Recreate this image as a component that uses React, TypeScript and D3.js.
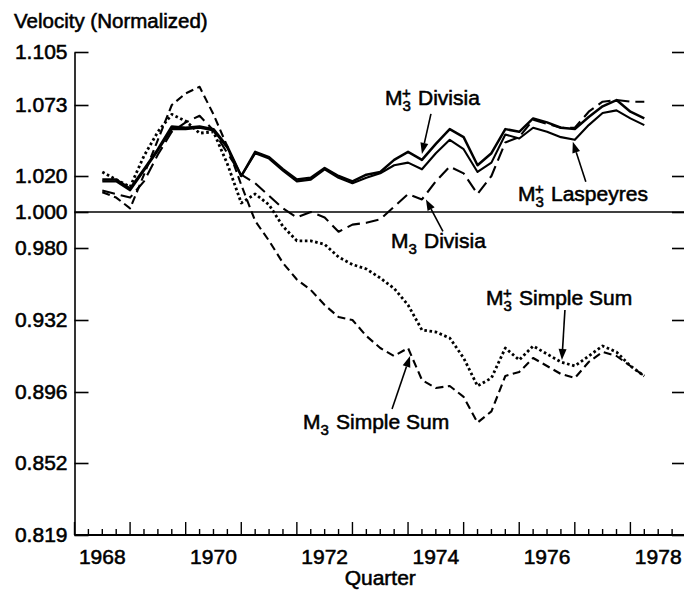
import React, { useEffect, useRef } from "react";
import * as d3 from "d3";

// quarterly observations, 1968Q3 .. 1978Q2
const quarters = [
  "1968Q3", "1968Q4", "1969Q1", "1969Q2", "1969Q3", "1969Q4", "1970Q1", "1970Q2",
  "1970Q3", "1970Q4", "1971Q1", "1971Q2", "1971Q3", "1971Q4", "1972Q1", "1972Q2",
  "1972Q3", "1972Q4", "1973Q1", "1973Q2", "1973Q3", "1973Q4", "1974Q1", "1974Q2",
  "1974Q3", "1974Q4", "1975Q1", "1975Q2", "1975Q3", "1975Q4", "1976Q1", "1976Q2",
  "1976Q3", "1976Q4", "1977Q1", "1977Q2", "1977Q3", "1977Q4", "1978Q1", "1978Q2",
];

const m3PlusDivisia = [
  1.018, 1.018, 1.013, 1.025, 1.040, 1.057, 1.056, 1.057, 1.055, 1.042,
  1.020, 1.038, 1.034, 1.025, 1.018, 1.019, 1.026, 1.020, 1.017, 1.021,
  1.023, 1.032, 1.038, 1.032, 1.044, 1.055, 1.049, 1.028, 1.037, 1.055,
  1.053, 1.063, 1.060, 1.056, 1.055, 1.064, 1.072, 1.076, 1.068, 1.063,
];

const m3PlusLaspeyres = [
  1.017, 1.017, 1.012, 1.024, 1.039, 1.055, 1.055, 1.056, 1.054, 1.041,
  1.020, 1.037, 1.033, 1.024, 1.017, 1.018, 1.025, 1.019, 1.016, 1.019,
  1.022, 1.028, 1.030, 1.025, 1.037, 1.047, 1.040, 1.023, 1.030, 1.051,
  1.048, 1.056, 1.053, 1.049, 1.047, 1.058, 1.067, 1.069, 1.063, 1.058,
];

const m3Divisia = [
  1.012, 1.010, 1.008, 1.017, 1.036, 1.053, 1.060, 1.065, 1.054, 1.037,
  1.021, 1.016, 1.009, 1.002, 0.997, 1.000, 0.997, 0.989, 0.993, 0.994,
  0.996, 1.003, 1.010, 1.007, 1.017, 1.027, 1.022, 1.010, 1.020, 1.045,
  1.049, 1.062, 1.059, 1.056, 1.056, 1.068, 1.075, 1.076, 1.075, 1.075,
];

const m3PlusSimpleSum = [
  1.023, 1.018, 1.014, 1.035, 1.053, 1.066, 1.061, 1.052, 1.053, 1.029,
  1.005, 1.010, 1.004, 0.992, 0.984, 0.984, 0.982, 0.974, 0.969, 0.966,
  0.960, 0.953, 0.942, 0.927, 0.926, 0.923, 0.913, 0.899, 0.903, 0.918,
  0.912, 0.919, 0.915, 0.911, 0.909, 0.914, 0.919, 0.916, 0.909, 0.904,
];

const m3SimpleSum = [
  1.011, 1.008, 1.002, 1.021, 1.047, 1.073, 1.080, 1.084, 1.066, 1.042,
  1.015, 0.995, 0.984, 0.970, 0.959, 0.952, 0.942, 0.934, 0.932, 0.924,
  0.918, 0.914, 0.918, 0.902, 0.898, 0.899, 0.893, 0.877, 0.884, 0.904,
  0.906, 0.913, 0.909, 0.905, 0.903, 0.911, 0.916, 0.914, 0.909, 0.904,
];

const yTicks = [0.819, 0.852, 0.896, 0.932, 0.98, 1.0, 1.02, 1.073, 1.105];
const yTickPx = [535, 463, 392, 320, 248, 212, 176, 105, 52];
const xLabels = [1968, 1970, 1972, 1974, 1976, 1978];

const FONT = "'Liberation Sans', Arial, Helvetica, sans-serif";

export default function App() {
  const svgRef = useRef<SVGSVGElement>(null);

  useEffect(() => {
    const width = 684;
    const height = 592;
    const svg = d3.select(svgRef.current);
    svg.selectAll("*").remove();
    svg.attr("width", width).attr("height", height);

    const left = 74.5;
    const right = 686;
    const bottom = 535;

    const x = d3.scaleLinear().domain([1968, 1979]).range([left, right]);
    // the printed axis is not evenly spaced; map through the tick values
    const y = d3.scaleLinear().domain(yTicks).range(yTickPx);

    const toYear = (q: string) => +q.slice(0, 4) + (+q.slice(5) - 1) / 4;

    const g = svg.append("g").style("font-family", FONT);

    // heavier text like the printed original
    const heavy = (sel: any) => sel.attr("fill", "#000").attr("stroke", "#000").attr("stroke-width", 0.55);

    // title
    g.append("text")
      .attr("x", 14)
      .attr("y", 28)
      .style("font-size", "20.5px")
      .text("Velocity (Normalized)")
      .call(heavy);

    // left axis
    const yAxis = d3.axisLeft(y)
      .tickValues(yTicks)
      .tickSizeInner(-14)
      .tickSizeOuter(0)
      .tickPadding(7)
      .tickFormat(d3.format(".3f"));
    const yAxisG = g.append("g").attr("transform", `translate(${left},0)`).call(yAxis);
    yAxisG.selectAll("text").style("font-size", "21px").style("font-family", FONT).call(heavy);
    yAxisG.selectAll("line, path").attr("stroke", "#000").attr("stroke-width", 1.6);

    // right axis (ticks only visible)
    const yAxisR = d3.axisRight(y).tickValues(yTicks).tickSizeInner(-14).tickSizeOuter(0).tickFormat(() => "");
    const yAxisRG = g.append("g").attr("transform", `translate(${right},0)`).call(yAxisR);
    yAxisRG.selectAll("line, path").attr("stroke", "#000").attr("stroke-width", 1.6);

    // bottom axis
    g.append("line")
      .attr("x1", left).attr("x2", right)
      .attr("y1", bottom).attr("y2", bottom)
      .attr("stroke", "#000").attr("stroke-width", 1.8);

    const qTicks = d3.range(1968 * 4, 1979 * 4 + 1).map((d) => d / 4);
    g.append("g")
      .selectAll("line")
      .data(qTicks)
      .join("line")
      .attr("x1", (d) => x(d))
      .attr("x2", (d) => x(d))
      .attr("y1", bottom)
      .attr("y2", (d) => (Number.isInteger(d) ? bottom - 13 : bottom - 6))
      .attr("stroke", "#000")
      .attr("stroke-width", 1.4);

    g.append("g")
      .selectAll("text")
      .data(xLabels)
      .join("text")
      .attr("x", (d) => x(d + 0.5))
      .attr("y", 564)
      .attr("text-anchor", "middle")
      .style("font-size", "21px")
      .text((d) => d)
      .call(heavy);

    g.append("text")
      .attr("x", (left + right) / 2)
      .attr("y", 585)
      .attr("text-anchor", "middle")
      .style("font-size", "21px")
      .text("Quarter")
      .call(heavy);

    // reference line at 1.000
    g.append("line")
      .attr("x1", left).attr("x2", right)
      .attr("y1", y(1)).attr("y2", y(1))
      .attr("stroke", "#000").attr("stroke-width", 1.6);

    const series = [
      { key: "m3PlusDivisia", values: m3PlusDivisia, dash: null, w: 2.5 },
      { key: "m3PlusLaspeyres", values: m3PlusLaspeyres, dash: null, w: 2.1 },
      { key: "m3Divisia", values: m3Divisia, dash: "13 6", w: 2.1 },
      { key: "m3PlusSimpleSum", values: m3PlusSimpleSum, dash: "2.6 2.6", w: 2.8 },
      { key: "m3SimpleSum", values: m3SimpleSum, dash: "8 4.5", w: 2.1 },
    ];

    const line = d3.line<number>()
      .x((d, i) => x(toYear(quarters[i])))
      .y((d) => y(d));

    g.append("g")
      .selectAll("path")
      .data(series)
      .join("path")
      .attr("d", (d) => line(d.values))
      .attr("fill", "none")
      .attr("stroke", "#000")
      .attr("stroke-width", (d) => d.w)
      .attr("stroke-linejoin", "round")
      .attr("stroke-dasharray", (d) => d.dash);

    // annotations: arrow tip anchored to a data point, label in pixels
    const notes = [
      { values: m3PlusDivisia, idx: 23, tdx: 0, tdy: -6, dx: 9, dy: -40, lx: 385, ly: 105, plus: true, rest: "Divisia" },
      { values: m3PlusLaspeyres, idx: 34, tdx: -2, tdy: 2, dx: 13, dy: 40, lx: 518, ly: 201, plus: true, rest: "Laspeyres" },
      { values: m3Divisia, idx: 23, tdx: 4, tdy: 0, dx: 17, dy: 32, lx: 391, ly: 248, plus: false, rest: "Divisia" },
      { values: m3PlusSimpleSum, idx: 33, tdx: 1, tdy: -2, dx: 3, dy: -50, lx: 486, ly: 305, plus: true, rest: "Simple Sum" },
      { values: m3SimpleSum, idx: 22, tdx: 2, tdy: 8, dx: -18, dy: 53, lx: 303, ly: 429, plus: false, rest: "Simple Sum" },
    ];

    notes.forEach((n) => {
      const tx = x(toYear(quarters[n.idx])) + n.tdx;
      const ty = y(n.values[n.idx]) + n.tdy;
      const sx = tx + n.dx;
      const sy = ty + n.dy;
      const ang = Math.atan2(ty - sy, tx - sx);
      const len = 11;
      const hw = 4;
      const bx = tx - len * Math.cos(ang);
      const by = ty - len * Math.sin(ang);
      g.append("line")
        .attr("x1", sx).attr("y1", sy).attr("x2", bx).attr("y2", by)
        .attr("stroke", "#000").attr("stroke-width", 1.6);
      g.append("path")
        .attr("d", `M${tx},${ty}L${bx + hw * Math.sin(ang)},${by - hw * Math.cos(ang)}L${bx - hw * Math.sin(ang)},${by + hw * Math.cos(ang)}Z`)
        .attr("fill", "#000");

      // one text element: M, subscript 3, optional superscript +, then the name
      const t = g.append("text").style("font-size", "21px").call(heavy);
      t.append("tspan").attr("x", n.lx).attr("y", n.ly).text("M");
      t.append("tspan").attr("x", n.lx + 17.5).attr("y", n.ly + 6).style("font-size", "15px").text("3");
      if (n.plus) {
        t.append("tspan").attr("x", n.lx + 17).attr("y", n.ly - 7).style("font-size", "15px").text("+");
      }
      t.append("tspan").attr("x", n.lx + 33).attr("y", n.ly).text(n.rest);
    });
  }, []);

  return (
    <div style={{ position: "absolute", left: 0, top: 0 }}>
      <svg ref={svgRef}></svg>
    </div>
  );
}
